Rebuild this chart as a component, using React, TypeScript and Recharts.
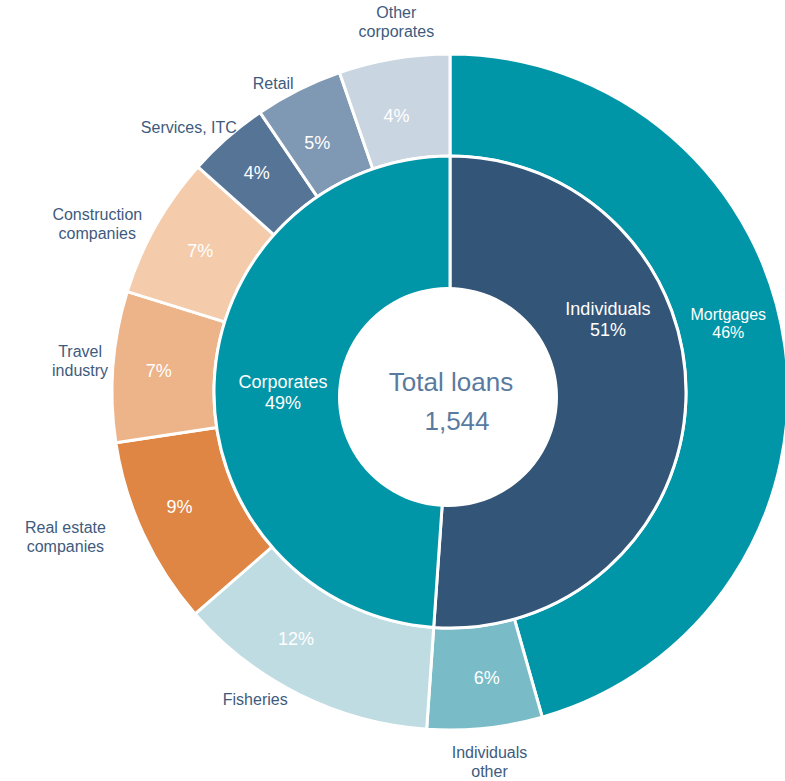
import React from 'react';
import { PieChart, Pie, Cell } from 'recharts';

// outer ring, clockwise from 12 o'clock
const outerNames = [
  'Mortgages',
  'Individuals other',
  'Fisheries',
  'Real estate companies',
  'Travel industry',
  'Construction companies',
  'Services, ITC',
  'Retail',
  'Other corporates',
];
const outerValues = [45.6, 5.5, 12.5, 9.0, 7.2, 6.8, 3.9, 4.2, 5.3];
const outerPct = ['46%', '6%', '12%', '9%', '7%', '7%', '4%', '5%', '4%'];
const outerColors = [
  '#0096a8', '#79bcc8', '#bfdce2', '#e08644', '#edb389',
  '#f4cbab', '#557496', '#7f98b3', '#c9d5e1',
];

// inner ring
const innerNames = ['Individuals', 'Corporates'];
const innerValues = [51.1, 48.9];
const innerPct = ['51%', '49%'];
const innerColors = ['#335577', '#0096a8'];

const totalLabel = 'Total loans';
const totalValue = '1,544';

// how the names break over lines outside the ring
const outsideLines: Record<string, string[]> = {
  'Individuals other': ['Individuals', 'other'],
  'Fisheries': ['Fisheries'],
  'Real estate companies': ['Real estate', 'companies'],
  'Travel industry': ['Travel', 'industry'],
  'Construction companies': ['Construction', 'companies'],
  'Services, ITC': ['Services, ITC'],
  'Retail': ['Retail'],
  'Other corporates': ['Other', 'corporates'],
};

// small label nudges, [dx, dy] in px
const insideNudge: Record<string, [number, number]> = {
  'Mortgages': [-6, -29],
  'Individuals other': [7, 1],
  'Fisheries': [-26, -10],
  'Real estate companies': [-10, -6],
  'Travel industry': [-5, 1],
  'Construction companies': [0, 0],
  'Services, ITC': [-4, -3],
  'Retail': [-4, 8],
  'Other corporates': [-6, 7],
  'Individuals': [-15, -78],
  'Corporates': [6, 6],
};
const outsideNudge: Record<string, [number, number]> = {
  'Individuals other': [1, 0],
  'Fisheries': [-29, -26],
  'Real estate companies': [-47, -11],
  'Travel industry': [1, -3],
  'Construction companies': [-29, 15],
  'Services, ITC': [-16, 15],
  'Retail': [-10, 24],
  'Other corporates': [8, -3],
};

const outerData = outerNames.map((name, i) => ({ name, value: outerValues[i], pct: outerPct[i] }));
const innerData = innerNames.map((name, i) => ({ name, value: innerValues[i], pct: innerPct[i] }));

const RAD = Math.PI / 180;
const FONT = '"Liberation Sans", Arial, sans-serif';
const TEXT_DARK = '#3e5b7d';

function polar(cx: number, cy: number, r: number, angle: number) {
  return { x: cx + r * Math.cos(-angle * RAD), y: cy + r * Math.sin(-angle * RAD) };
}

function Lines({ x, y, lines, size, gap, fill }: { x: number; y: number; lines: string[]; size: number; gap: number; fill: string }) {
  return (
    <>
      {lines.map((l, i) => (
        <text
          key={i}
          x={x}
          y={y + (i - (lines.length - 1) / 2) * gap}
          textAnchor="middle"
          dominantBaseline="central"
          fontFamily={FONT}
          fontSize={size}
          fill={fill}
        >
          {l}
        </text>
      ))}
    </>
  );
}

const renderOuterLabel = (props: any) => {
  const { cx, cy, midAngle, index } = props;
  const d = outerData[index];
  const [idx, idy] = insideNudge[d.name] || [0, 0];
  const p = polar(cx, cy, 287, midAngle);
  const inside =
    d.name === 'Mortgages' ? (
      <Lines x={p.x + idx} y={p.y + idy} lines={['Mortgages', d.pct]} size={16} gap={18} fill="#ffffff" />
    ) : (
      <Lines x={p.x + idx} y={p.y + idy} lines={[d.pct]} size={18} gap={18} fill="#ffffff" />
    );
  let outside = null;
  if (outsideLines[d.name]) {
    const [odx, ody] = outsideNudge[d.name] || [0, 0];
    const o = polar(cx, cy, 372, midAngle);
    outside = <Lines x={o.x + odx} y={o.y + ody} lines={outsideLines[d.name]} size={16} gap={19} fill={TEXT_DARK} />;
  }
  return (
    <g key={`ol-${index}`}>
      {inside}
      {outside}
    </g>
  );
};

const renderInnerLabel = (props: any) => {
  const { cx, cy, midAngle, index } = props;
  const d = innerData[index];
  const [dx, dy] = insideNudge[d.name] || [0, 0];
  const p = polar(cx, cy, 173, midAngle);
  return (
    <g key={`il-${index}`}>
      <Lines x={p.x + dx} y={p.y + dy} lines={[d.name, d.pct]} size={18} gap={21} fill="#ffffff" />
    </g>
  );
};

const renderCenter = (props: any) => {
  const { cx, cy } = props;
  return (
    <g key="center">
      <text x={cx + 3} y={cy - 15} textAnchor="middle" dominantBaseline="central" fontFamily={FONT} fontSize={26} fill="#5a7ba0">
        {totalLabel}
      </text>
      <text x={cx + 9} y={cy + 24} textAnchor="middle" dominantBaseline="central" fontFamily={FONT} fontSize={26} fill="#5a7ba0">
        {totalValue}
      </text>
    </g>
  );
};

export default function App() {
  return (
    <div style={{ position: 'absolute', left: 0, top: 0, background: '#fff' }}>
      <PieChart width={785} height={781} margin={{ top: 0, right: 0, bottom: 0, left: 0 }}>
        <Pie
          data={outerData}
          dataKey="value"
          nameKey="name"
          cx={450}
          cy={392}
          innerRadius={236}
          outerRadius={338}
          startAngle={90}
          endAngle={-270}
          stroke="#ffffff"
          strokeWidth={3}
          label={renderOuterLabel}
          labelLine={false}
          isAnimationActive={false}
        >
          {outerData.map((d, i) => (
            <Cell key={d.name} fill={outerColors[i]} />
          ))}
        </Pie>
        <Pie
          data={innerData}
          dataKey="value"
          nameKey="name"
          cx={450}
          cy={392}
          innerRadius={0}
          outerRadius={236}
          startAngle={90}
          endAngle={-270}
          stroke="#ffffff"
          strokeWidth={3}
          label={renderInnerLabel}
          labelLine={false}
          isAnimationActive={false}
        >
          {innerData.map((d, i) => (
            <Cell key={d.name} fill={innerColors[i]} />
          ))}
        </Pie>
        <Pie
          data={[{ name: 'hole', value: 1 }]}
          dataKey="value"
          cx={448}
          cy={397}
          innerRadius={0}
          outerRadius={110}
          startAngle={90}
          endAngle={-270}
          fill="#ffffff"
          stroke="none"
          label={renderCenter}
          labelLine={false}
          isAnimationActive={false}
        />
      </PieChart>
    </div>
  );
}
